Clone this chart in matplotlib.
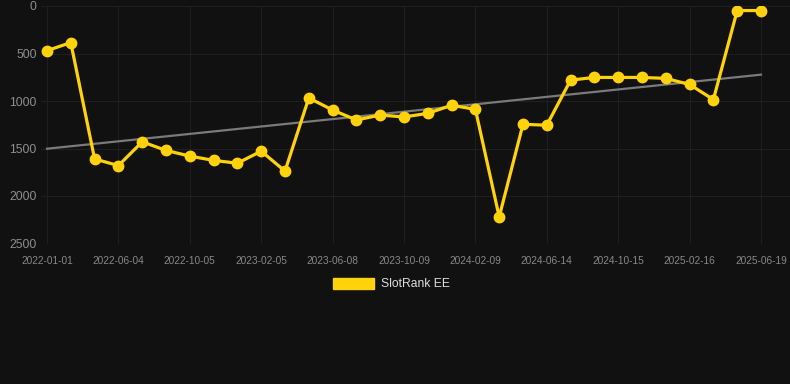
import numpy as np
import matplotlib.pyplot as plt
from matplotlib.patches import Patch

plt.rcParams['font.family'] = ['Liberation Sans', 'DejaVu Sans']

# datum för varje mätpunkt (bara var tredje visas som etikett)
dates = ['2022-01-01', '2022-02-20', '2022-04-12', '2022-06-04', '2022-07-15',
         '2022-08-25', '2022-10-05', '2022-11-15', '2022-12-26', '2023-02-05',
         '2023-03-18', '2023-04-28', '2023-06-08', '2023-07-19', '2023-08-29',
         '2023-10-09', '2023-11-19', '2023-12-30', '2024-02-09', '2024-03-21',
         '2024-05-03', '2024-06-14', '2024-07-25', '2024-09-04', '2024-10-15',
         '2024-11-25', '2025-01-05', '2025-02-16', '2025-03-29', '2025-05-09',
         '2025-06-19']
rank = [470, 385, 1610, 1680, 1430, 1520, 1580, 1625, 1655, 1528,
        1738, 968, 1095, 1200, 1148, 1168, 1130, 1045, 1088, 2220,
        1245, 1255, 780, 752, 752, 752, 762, 826, 985, 48,
        48]
series_name = 'SlotRank EE'

bg = '#111111'
yellow = '#ffd20a'

fig = plt.figure(figsize=(7.9, 3.84), dpi=100, facecolor=bg)
ax = fig.add_axes([41 / 790, (384 - 243.5) / 384, (790 - 41) / 790, 237.5 / 384])
ax.set_facecolor(bg)

x = np.arange(len(rank))
# trendlinje via linjär regression
k, m = np.polyfit(x, rank, 1)
ax.plot(x, k * x + m, color='#7a7a7a', lw=1.6, zorder=2)
ax.plot(x, rank, color=yellow, lw=2.3, marker='o', ms=7.5, zorder=3)

ax.set_ylim(2500, 0)
ax.set_yticks([0, 500, 1000, 1500, 2000, 2500])
ax.set_xlim(-(47 - 41) / 23.8, 30 + 29 / 23.8)
ax.set_xticks(x[::3])
ax.set_xticklabels(dates[::3])

ax.grid(True, color='#1f1f1f', lw=0.8)
ax.set_axisbelow(True)
for s in ax.spines.values():
    s.set_visible(False)
ax.tick_params(axis='x', length=0, pad=9, labelsize=7.3, labelcolor='#888888')
ax.tick_params(axis='y', length=0, pad=3, labelsize=8.7, labelcolor='#8f8f8f')

fig.legend(handles=[Patch(color=yellow, label=series_name)],
           loc='center', bbox_to_anchor=(0.4955, 0.26), frameon=False,
           fontsize=8.7, labelcolor='#dddddd', handlelength=3.4,
           handleheight=1.0, handletextpad=0.5)

fig.savefig('out.png', dpi=100, facecolor=bg)
